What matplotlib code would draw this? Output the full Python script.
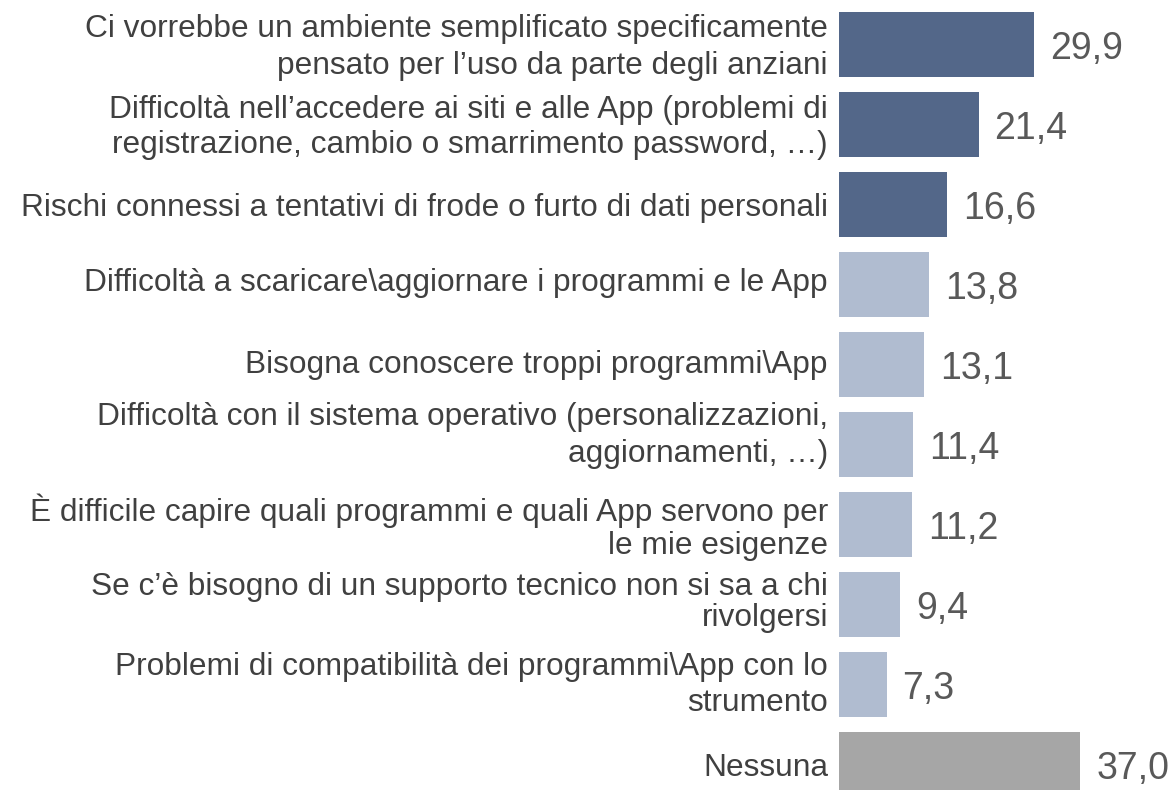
import matplotlib.pyplot as plt

plt.rcParams['font.family'] = ['Liberation Sans', 'DejaVu Sans']

labels = [
    "Ci vorrebbe un ambiente semplificato specificamente\npensato per l’uso da parte degli anziani",
    "Difficoltà nell’accedere ai siti e alle App (problemi di\nregistrazione, cambio o smarrimento password, …)",
    "Rischi connessi a tentativi di frode o furto di dati personali",
    "Difficoltà a scaricare\\aggiornare i programmi e le App",
    "Bisogna conoscere troppi programmi\\App",
    "Difficoltà con il sistema operativo (personalizzazioni,\naggiornamenti, …)",
    "È difficile capire quali programmi e quali App servono per\nle mie esigenze",
    "Se c’è bisogno di un supporto tecnico non si sa a chi\nrivolgersi",
    "Problemi di compatibilità dei programmi\\App con lo\nstrumento",
    "Nessuna",
]
values = [29.9, 21.4, 16.6, 13.8, 13.1, 11.4, 11.2, 9.4, 7.3, 37.0]
colors = ['#536789'] * 3 + ['#b0bcd0'] * 6 + ['#a6a6a6']

# the labels are not all exactly centred on their bars in the original
label_shift = [-2.2, -2.2, -2.2, 0.8, -0.7, 6.5, -2.2, 1.3, -0.2, -2.2]   # points, upward
label_spacing = [1.27, 1.22, 1.27, 1.27, 1.27, 1.32, 1.12, 1.05, 1.27, 1.27]

fig = plt.figure(figsize=(11.73, 7.9), dpi=100)
# axes from bar start (x=839px) to right edge, full height
ax = fig.add_axes([839 / 1173, 0, 1 - 839 / 1173, 1])

pos = list(range(len(values)))
ax.barh(pos, values, height=0.8125, color=colors)
ax.set_xlim(0, (1173 - 839) / 6.52)
ax.set_ylim((790 - 44.5) / 80, -44.5 / 80)
ax.axis('off')

for i, lab in enumerate(labels):
    ax.annotate(lab, (0, i), xytext=(-8, label_shift[i]), textcoords='offset points',
                ha='right', va='center', fontsize=22.8, color='#404040',
                linespacing=label_spacing[i], annotation_clip=False)

for i, v in enumerate(values):
    ax.annotate(f"{v:.1f}".replace('.', ','), (v, i), xytext=(11.5, -3),
                textcoords='offset points', va='center', ha='left',
                fontsize=27, color='#595959', annotation_clip=False)

fig.savefig('out.png', dpi=100)
